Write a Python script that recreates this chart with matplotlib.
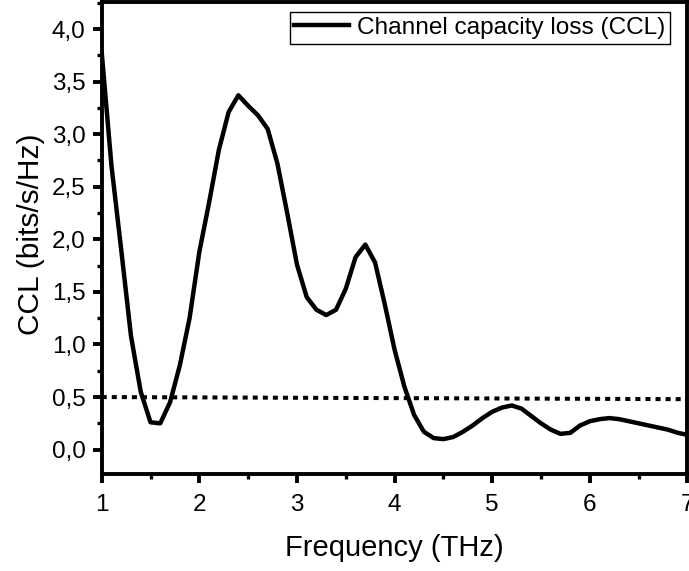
import matplotlib
matplotlib.use("Agg")
import matplotlib.pyplot as plt
from matplotlib.ticker import MultipleLocator, FuncFormatter

plt.rcParams['font.family'] = ['Liberation Sans', 'DejaVu Sans']

# Данные
freq = [1.0, 1.1, 1.2, 1.3, 1.4, 1.5, 1.6, 1.7, 1.8, 1.9,
        2.0, 2.1, 2.2, 2.3, 2.4, 2.5, 2.6, 2.7, 2.8, 2.9,
        3.0, 3.1, 3.2, 3.3, 3.4, 3.5, 3.6, 3.7, 3.8, 3.9,
        4.0, 4.1, 4.2, 4.3, 4.4, 4.5, 4.6, 4.7, 4.8, 4.9,
        5.0, 5.1, 5.2, 5.3, 5.4, 5.5, 5.6, 5.7, 5.8, 5.9,
        6.0, 6.1, 6.2, 6.3, 6.4, 6.5, 6.6, 6.7, 6.8, 6.9, 7.0]
ccl = [3.78, 2.70, 1.90, 1.08, 0.55, 0.26, 0.25, 0.45, 0.80, 1.25,
       1.88, 2.35, 2.85, 3.21, 3.37, 3.27, 3.18, 3.05, 2.72, 2.25,
       1.76, 1.45, 1.33, 1.28, 1.33, 1.53, 1.83, 1.95, 1.78, 1.38,
       0.95, 0.60, 0.33, 0.17, 0.11, 0.10, 0.12, 0.17, 0.23, 0.30,
       0.36, 0.40, 0.42, 0.39, 0.32, 0.25, 0.19, 0.15, 0.16, 0.23,
       0.27, 0.29, 0.30, 0.29, 0.27, 0.25, 0.23, 0.21, 0.19, 0.16, 0.14]

# пороговая линия
thr_x = [1.0, 7.0]
thr_y = [0.50, 0.48]

fig = plt.figure(figsize=(6.89, 5.71), dpi=100)
ax = fig.add_axes([0.1476, 0.170, 0.8502, 0.8265])

ax.plot(freq, ccl, color='black', linewidth=3.2, label='Channel capacity loss (CCL)')
ax.plot(thr_x, thr_y, color='black', linewidth=2.9, linestyle=(0, (1.25, 1.25)))

ax.set_xlim(1, 7)
ax.set_ylim(-0.231, 4.257)

ax.xaxis.set_major_locator(MultipleLocator(1))
ax.xaxis.set_minor_locator(MultipleLocator(0.5))
ax.yaxis.set_major_locator(MultipleLocator(0.5))
ax.yaxis.set_minor_locator(MultipleLocator(0.25))
ax.yaxis.set_major_formatter(FuncFormatter(lambda v, p: f"{v:.1f}".replace('.', ',')))

for s in ax.spines.values():
    s.set_linewidth(2.8)

ax.tick_params(axis='both', which='major', direction='out', length=6.5, width=2.8, labelsize=17.5)
ax.tick_params(axis='both', which='minor', direction='out', length=3.5, width=2.4)
ax.tick_params(axis='x', which='major', pad=8)
ax.tick_params(axis='y', which='major', pad=5)

ax.set_xlabel('Frequency (THz)', fontsize=21)
ax.set_ylabel('CCL (bits/s/Hz)', fontsize=21.5)
ax.xaxis.set_label_coords(0.5, -0.128)
ax.yaxis.set_label_coords(-0.096, 0.508)

leg = ax.legend(loc='upper right', bbox_to_anchor=(0.970, 0.9795), borderaxespad=0,
                fontsize=17.6, handlelength=2.25, handletextpad=0.3, borderpad=0.2,
                fancybox=False, framealpha=1)
leg.get_frame().set_edgecolor('black')
leg.get_frame().set_linewidth(1.0)

fig.savefig('out.png', dpi=100)
